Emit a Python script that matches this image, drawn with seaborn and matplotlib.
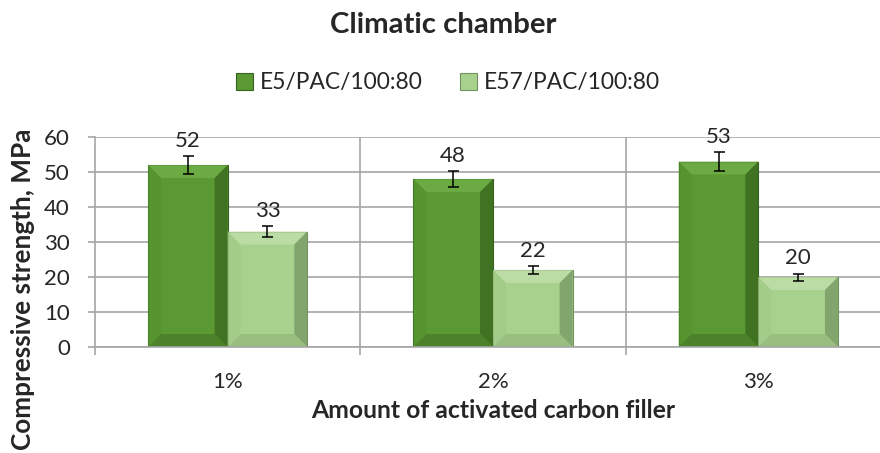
import matplotlib
matplotlib.use("Agg")
import matplotlib.pyplot as plt
from matplotlib.patches import Polygon
import seaborn as sns
import pandas as pd
import numpy as np

categories = ["1%", "2%", "3%"]
series_names = ["E5/PAC/100:80", "E57/PAC/100:80"]
e5_values = [52, 48, 53]
e57_values = [33, 22, 20]
e5_err = [2.6, 2.3, 2.6]
e57_err = [1.6, 1.2, 1.0]
colors = ["#5b9a33", "#a9d18e"]
title = "Climatic chamber"
xlabel = "Amount of activated carbon filler"
ylabel = "Compressive strength, MPa"

df = pd.DataFrame({
    "cat": categories * 2,
    "series": [series_names[0]] * 3 + [series_names[1]] * 3,
    "value": e5_values + e57_values,
})

sns.set_theme(style="white")
FONT = ['Lato', 'DejaVu Sans']
plt.rcParams['font.family'] = FONT

W, H = 880, 453
fig = plt.figure(figsize=(W / 100, H / 100), dpi=100)
renderer = fig.canvas.get_renderer()


def fit_size(s, target_px, weight="normal"):
    t = fig.text(0, 0, s, fontsize=10, fontweight=weight, family=FONT)
    w = t.get_window_extent(renderer).width
    t.remove()
    return 10 * target_px / w


fs_title = fit_size(title, 227, "bold")
fs_xlab = fit_size(xlabel, 366, "bold")
fs_ylab = fit_size(ylabel, 322, "bold")
fs_leg = fit_size(series_names[0], 162)
fs_num = fit_size("52", 26)

L, R, T, B = 95, 891, 137, 347
ax = fig.add_axes([L / W, 1 - B / H, (R - L) / W, (B - T) / H])

sns.barplot(data=df, x="cat", y="value", hue="series", palette=colors,
            width=0.6, ax=ax, errorbar=None, legend=True, saturation=1)

grid_c = "#a6a6a6"
ax.set_ylim(0, 60)
ax.set_xlim(-0.5, 2.5)
ax.set_yticks(range(0, 61, 10))
ax.yaxis.grid(True, color=grid_c, lw=1.2)
ax.set_axisbelow(True)
for b in [0.5, 1.5]:
    ax.axvline(b, color=grid_c, lw=1.2, zorder=0)
ax.set_xticks([-0.5, 0.5, 1.5, 2.5], minor=True)
ax.tick_params(axis="x", which="minor", length=6, width=1.2, color=grid_c,
               direction="out", bottom=True)
ax.tick_params(axis="x", which="major", length=0, labelsize=fs_num, pad=35 * 0.72)
for lab in ax.get_xticklabels():
    lab.set_va("center")
ax.tick_params(axis="y", length=7 * 0.72, width=1.2, color=grid_c, direction="out",
               left=True, labelsize=fs_num, pad=18 * 0.72)
for s in ["top", "right"]:
    ax.spines[s].set_visible(False)
for s in ["left", "bottom"]:
    ax.spines[s].set_color(grid_c)
    ax.spines[s].set_linewidth(1.2)

# bevel shading computed from the bars seaborn drew
bevel_px = 13
edge_cols = [("#74b34a", "#55922f", "#35621c", "#467a27"),
             ("#c3e2ae", "#a3cb88", "#72925f", "#92b67b")]
inv = ax.transData.inverted()
fig.canvas.draw()
for cont, vals, errs, ecs in zip(ax.containers, [e5_values, e57_values],
                                 [e5_err, e57_err], edge_cols):
    for bar, v, e in zip(cont.patches, vals, errs):
        x0, y0 = bar.get_x(), bar.get_y()
        x1, y1 = x0 + bar.get_width(), y0 + bar.get_height()
        p0 = ax.transData.transform((x0, y0))
        dx = abs(inv.transform((p0[0] + bevel_px, p0[1]))[0] - x0)
        dy = abs(inv.transform((p0[0], p0[1] + bevel_px))[1] - y0)
        top, left, right, bottom = ecs
        polys = [
            ([(x0, y1), (x1, y1), (x1 - dx, y1 - dy), (x0 + dx, y1 - dy)], top),
            ([(x0, y0), (x0, y1), (x0 + dx, y1 - dy), (x0 + dx, y0 + dy)], left),
            ([(x1, y0), (x1, y1), (x1 - dx, y1 - dy), (x1 - dx, y0 + dy)], right),
            ([(x0, y0), (x1, y0), (x1 - dx, y0 + dy), (x0 + dx, y0 + dy)], bottom),
        ]
        for pts, c in polys:
            ax.add_patch(Polygon(pts, closed=True, facecolor=c, edgecolor="none",
                                 alpha=0.7, zorder=bar.get_zorder() + 0.1))
        bar.set_edgecolor(ecs[2])
        bar.set_linewidth(0.8)
        cx = x0 + bar.get_width() / 2
        ax.errorbar(cx, v, yerr=e, color="black", capsize=5.5 * 0.72, lw=1.1,
                    capthick=1.1, zorder=5)
        ax.annotate(str(v), (cx, v + e), xytext=(0, 9 * 0.72), textcoords="offset points",
                    ha="center", va="baseline", fontsize=fs_num, zorder=6)

ax.set_xlabel(xlabel, fontsize=fs_xlab, fontweight="bold", va="center")
ax.xaxis.set_label_coords(0.5, (B - 410) / (B - T))
ax.set_ylabel(ylabel, fontsize=fs_ylab, fontweight="bold", va="center")
ax.yaxis.set_label_coords((23 - L) / (R - L), (B - 289) / (B - T))

fig.text(443 / W, 1 - 25 / H, title, fontsize=fs_title, fontweight="bold",
         ha="center", va="center")

px2em = 72 / 100 / fs_leg
leg = ax.legend(loc="center", bbox_to_anchor=(448 / W, 1 - 83 / H),
                bbox_transform=fig.transFigure, ncol=2, frameon=False,
                fontsize=fs_leg, handlelength=17 * px2em, handleheight=17 * px2em,
                handletextpad=7 * px2em, columnspacing=37 * px2em, borderpad=0)
for h, ec in zip(leg.legend_handles, ["#35621c", "#72925f"]):
    h.set_edgecolor(ec)
    h.set_linewidth(0.8)

fig.savefig("out.png", dpi=100)
